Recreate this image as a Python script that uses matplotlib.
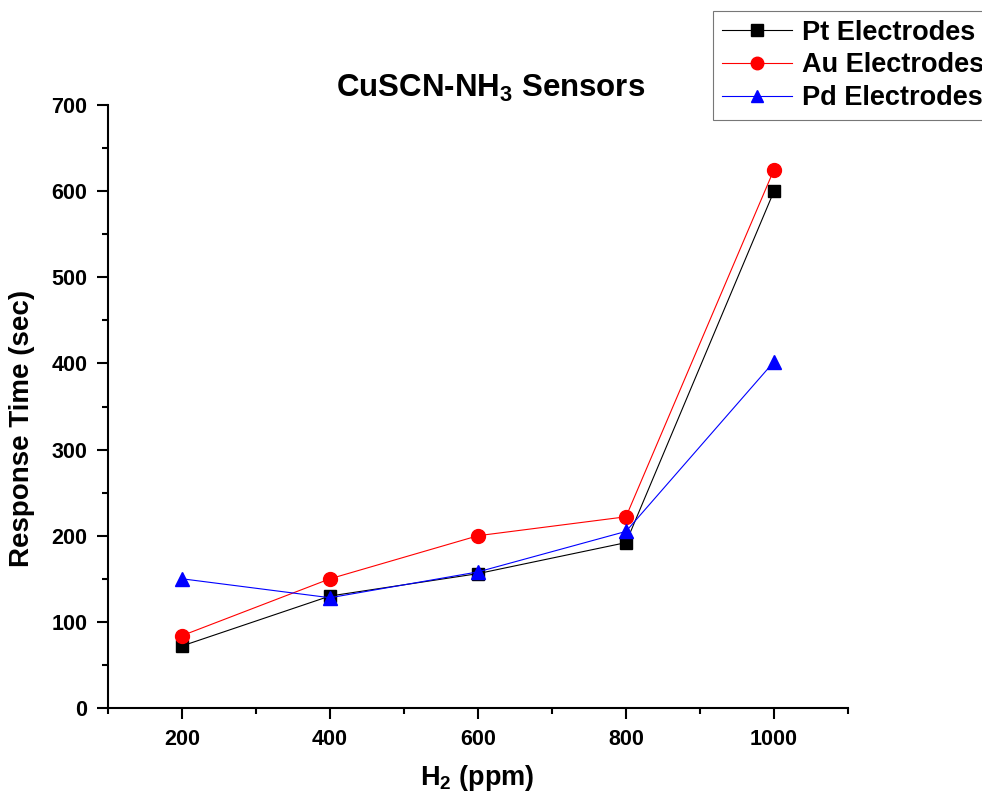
import numpy as np
import matplotlib.pyplot as plt

plt.rcParams['font.family'] = ['Liberation Sans', 'DejaVu Sans']
plt.rcParams['font.weight'] = 'bold'
plt.rcParams['mathtext.fontset'] = 'custom'
plt.rcParams['mathtext.rm'] = 'Liberation Sans:bold'
plt.rcParams['mathtext.bf'] = 'Liberation Sans:bold'
plt.rcParams['mathtext.it'] = 'Liberation Sans:bold'

# H2 concentration (ppm) and response times (sec)
conc = [200, 400, 600, 800, 1000]
pt_time = [72, 130, 156, 192, 600]
au_time = [84, 150, 200, 222, 625]
pd_time = [150, 128, 158, 205, 402]

fig = plt.figure(figsize=(9.82, 8), dpi=100)
ax = fig.add_axes([108 / 982, 92 / 800, 740 / 982, 603 / 800])

ax.plot(conc, pt_time, color='black', lw=0.8, marker='s', ms=9, label='Pt Electrodes')
ax.plot(conc, au_time, color='red', lw=0.8, marker='o', ms=10, label='Au Electrodes')
ax.plot(conc, pd_time, color='blue', lw=0.8, marker='^', ms=10, label='Pd Electrodes')

ax.set_xlim(100, 1100)
ax.set_ylim(0, 700)
ax.set_xticks([200, 400, 600, 800, 1000])
ax.set_xticks([100, 300, 500, 700, 900, 1100], minor=True)
ax.set_yticks(np.arange(0, 701, 100))
ax.set_yticks(np.arange(50, 700, 100), minor=True)

for side in ['top', 'right']:
    ax.spines[side].set_visible(False)
for side in ['left', 'bottom']:
    ax.spines[side].set_linewidth(1.5)

ax.tick_params(which='major', direction='out', length=8, width=1.5, labelsize=15.5, pad=7)
ax.tick_params(which='minor', direction='out', length=4.5, width=1.5)
for lbl in ax.get_xticklabels() + ax.get_yticklabels():
    lbl.set_fontweight('bold')

fig.text(477 / 982, 1 - 778 / 800, r'H$_2$ (ppm)', fontsize=19.5,
         fontweight='bold', ha='center', va='center')
fig.text(22 / 982, 1 - 428 / 800, 'Response Time (sec)', fontsize=20,
         fontweight='bold', ha='center', va='center', rotation=90)

fig.text(491 / 982, 1 - 88 / 800, r'CuSCN-NH$_3$ Sensors', fontsize=22.5,
         fontweight='bold', ha='center', va='center')

leg = fig.legend(loc='upper left', bbox_to_anchor=(713 / 982, 1 - 11 / 800),
                 fontsize=19.5, frameon=True, fancybox=False, handlelength=2.6,
                 handletextpad=0.35, labelspacing=0.25, borderpad=0.32,
                 borderaxespad=0, markerscale=0.9)
leg.get_frame().set_edgecolor('#555555')
leg.get_frame().set_linewidth(0.8)
for t in leg.get_texts():
    t.set_fontweight('bold')

fig.savefig('out.png', dpi=100)
